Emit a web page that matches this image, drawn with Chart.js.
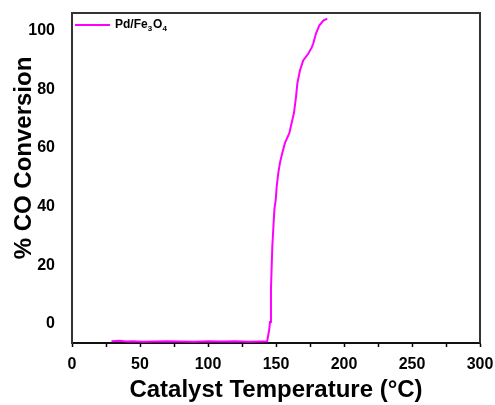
<!DOCTYPE html>
<html>
<head>
<meta charset="utf-8">
<script src="https://cdn.jsdelivr.net/npm/chart.js@4.4.1/dist/chart.umd.min.js"></script>
<style>
  html, body { margin: 0; padding: 0; background: #fff; }
  canvas { display: block; }
</style>
</head>
<body>
<canvas id="coChart" width="495" height="405"></canvas>
<script>
// Temperature (°C) and CO conversion (%)
const temperature = [
  29, 35, 40, 45, 52, 60, 70, 80, 90, 100, 110, 120, 130, 138, 143.5,
  145, 145.6, 146.3, 147.3, 148.8, 149.8, 150.5, 151.7, 152.9, 154.6,
  156.6, 159.8, 161.5, 163.2, 164.7, 165.7, 167.6, 170, 173.8, 176.2,
  177.4, 179.4, 181.8, 184.8, 187.7
];
const conversion = [
  -5.9, -5.7, -6, -5.9, -6.1, -6, -5.9, -6, -6.1, -5.9, -6, -5.9, -6.1, -6, -5.9,
  -2, 0.7, 12, 26.5, 39, 42.4, 46.8, 51.5, 54.9, 58.3,
  61.7, 65, 68.5, 71.9, 77.3, 82, 86.4, 89.8, 92.2, 94.2,
  95.6, 99, 101.7, 103.4, 104.1
];
const xTickLabels = [0, 50, 100, 150, 200, 250, 300];
const yTickLabels = [0, 20, 40, 60, 80, 100];

const seriesName = 'Pd/Fe3O4';
const seriesColor = '#ff00ff';
const boldFont = '"Liberation Sans", Arial, sans-serif';

// draws the top/right frame, the in-plot legend and the rotated y title
const extras = {
  id: 'extras',
  afterDraw(chart) {
    const { ctx, chartArea } = chart;
    ctx.save();

    // frame on the top and right sides
    ctx.strokeStyle = '#333';
    ctx.lineWidth = 2;
    ctx.beginPath();
    ctx.moveTo(chartArea.left, chartArea.top);
    ctx.lineTo(chartArea.right, chartArea.top);
    ctx.lineTo(chartArea.right, chartArea.bottom);
    ctx.stroke();

    // legend: short line plus label with subscripts
    const ly = chartArea.top + 12;
    ctx.strokeStyle = seriesColor;
    ctx.lineWidth = 2;
    ctx.beginPath();
    ctx.moveTo(chartArea.left + 3, ly);
    ctx.lineTo(chartArea.left + 38, ly);
    ctx.stroke();

    ctx.fillStyle = '#000';
    ctx.textBaseline = 'middle';
    ctx.textAlign = 'left';
    let tx = chartArea.left + 43;
    const parts = seriesName.match(/[^0-9]+|[0-9]+/g);
    parts.forEach(p => {
      const isSub = /^[0-9]+$/.test(p);
      ctx.font = isSub ? 'bold 8px ' + boldFont : 'bold 12px ' + boldFont;
      ctx.fillText(p, tx, isSub ? ly + 4 : ly);
      tx += ctx.measureText(p).width + (isSub ? 1 : 0);
    });

    // y axis title
    ctx.translate(24, 158);
    ctx.rotate(-Math.PI / 2);
    ctx.textAlign = 'center';
    ctx.font = 'bold 24px ' + boldFont;
    ctx.fillText('% CO Conversion', 0, 0);
    ctx.restore();
  }
};

const ctx = document.getElementById('coChart').getContext('2d');
new Chart(ctx, {
  type: 'line',
  data: {
    datasets: [{
      label: seriesName,
      data: temperature.map((t, i) => ({ x: t, y: conversion[i] })),
      borderColor: seriesColor,
      borderWidth: 2,
      pointRadius: 0,
      tension: 0,
      fill: false
    }]
  },
  options: {
    responsive: false,
    animation: false,
    devicePixelRatio: 1,
    layout: { padding: { top: 13, right: 15, left: 0, bottom: 0 } },
    plugins: {
      legend: { display: false },
      tooltip: { enabled: false }
    },
    scales: {
      x: {
        type: 'linear',
        min: 0,
        max: 300,
        afterFit(scale) {
          scale.height = 62;
          scale.paddingLeft = 0;
          scale.paddingRight = 0;
        },
        ticks: {
          stepSize: 25,
          autoSkip: false,
          maxRotation: 0,
          padding: 8,
          color: '#000',
          font: { family: boldFont, size: 16, weight: 'bold' },
          callback: v => xTickLabels.includes(v) ? v : ''
        },
        grid: {
          drawOnChartArea: false,
          drawTicks: true,
          tickLength: 4,
          tickWidth: 1.5,
          color: '#000'
        },
        border: { display: true, color: '#111', width: 2 },
        title: {
          display: true,
          text: 'Catalyst Temperature (°C)',
          color: '#000',
          font: { family: boldFont, size: 24, weight: 'bold' },
          padding: { top: 0, bottom: 0 }
        }
      },
      y: {
        min: -6.5,
        max: 106,
        afterFit(scale) {
          scale.width = 72;
          scale.paddingTop = 0;
          scale.paddingBottom = 0;
        },
        afterBuildTicks(scale) {
          scale.ticks = yTickLabels.map(v => ({ value: v }));
        },
        ticks: {
          padding: 9,
          color: '#000',
          font: { family: boldFont, size: 16, weight: 'bold' }
        },
        grid: { display: false },
        border: { display: true, color: '#333', width: 2 }
      }
    }
  },
  plugins: [extras]
});
</script>
</body>
</html>
